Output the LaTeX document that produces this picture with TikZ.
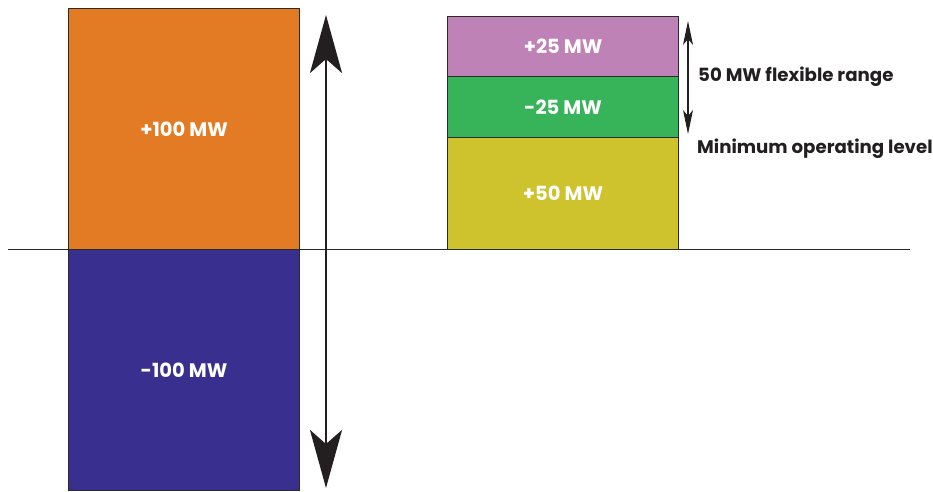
\documentclass[tikz,border=0pt]{standalone}
\usepackage{fontspec}
\setmainfont{Poppins}
\usetikzlibrary{arrows.meta}
\definecolor{upOrange}{HTML}{E27B24}
\definecolor{downBlue}{HTML}{382F8E}
\definecolor{flexPurple}{HTML}{BF82B6}
\definecolor{flexGreen}{HTML}{37B45A}
\definecolor{baseYellow}{HTML}{CEC22D}
\definecolor{edge}{HTML}{2A2A2A}
\definecolor{ink}{HTML}{231F20}
\tikzset{
  block/.style={draw=edge, line width=1.1pt, inner sep=0pt, anchor=north west,
    text=white, font=\fontsize{19.5}{22}\selectfont\bfseries},
  note/.style={anchor=west, inner sep=0pt, text=ink,
    font=\fontsize{18.2}{21}\selectfont\bfseries},
  bigarrow/.style={line width=2.4pt, ink, {Stealth[length=58pt,width=32pt,inset=14pt]}-{Stealth[length=58pt,width=32pt,inset=14pt]}},
  smallarrow/.style={line width=1.1pt, ink, {Stealth[length=24pt,width=10pt,inset=6pt]}-{Stealth[length=24pt,width=10pt,inset=6pt]}}
}
\begin{document}
\begin{tikzpicture}[x=1pt,y=1pt]
\useasboundingbox (0,0) rectangle (933,491);
% zero line
\coordinate (zl) at (8,242);
\coordinate (zr) at (910,242);
\draw[line width=1pt, edge] (zl) -- (zr);
% swing range of the first plant
\node[block, fill=upOrange, minimum width=231pt, minimum height=241pt] (up) at (68,483) {+100 MW};
\node[block, fill=downBlue, minimum width=231pt, minimum height=241pt] (down) at (68,242) {-100 MW};
\coordinate (bt) at (326,476);
\coordinate (bb) at (326,3);
\draw[bigarrow] (bb) -- (bt);
% second plant: flexible range above minimum level
\node[block, fill=flexPurple, minimum width=231pt, minimum height=60pt] (p25) at (447,475) {+25 MW};
\node[block, fill=flexGreen, minimum width=231pt, minimum height=61pt] (m25) at (447,415) {-25 MW};
\node[block, fill=baseYellow, minimum width=231pt, minimum height=112pt] (p50) at (447,354) {+50 MW};
\coordinate (st) at (688,470);
\coordinate (sb) at (688,357);
\draw[smallarrow] (sb) -- (st);
\node[note] (flex) at (698,414) {50 MW flexible range};
\node[note] (minlvl) at (697,342) {Minimum operating level};
\end{tikzpicture}
\end{document}
